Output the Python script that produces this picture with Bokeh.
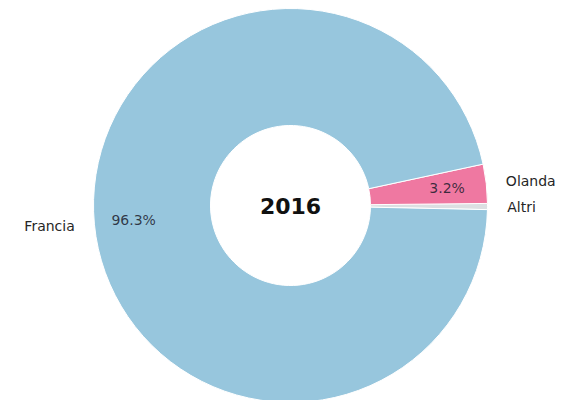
import math
from bokeh.plotting import figure
from bokeh.models import Range1d, ColumnDataSource
from bokeh.core.properties import value
from bokeh.embed import file_html
from bokeh.resources import INLINE

# Data (counter-clockwise order starting at the right)
labels = ["Altri", "Olanda", "Francia"]
shares = [0.5, 3.2, 96.3]
colors = ["#dcdfe2", "#ef78a1", "#97c6dd"]
center_title = "2016"

START_DEG = -1.2
R_OUT = 197
R_IN = 80

W, H = 564, 400
CX, CY = 290, 205  # pie centre in canvas pixels from top-left

p = figure(width=W, height=H, output_backend="svg", toolbar_location=None,
           x_range=Range1d(-CX, W - CX), y_range=Range1d(-(H - CY), CY),
           min_border=0)
p.axis.visible = False
p.grid.visible = False
p.outline_line_color = None
p.background_fill_color = "white"

total = sum(shares)
starts, ends = [], []
acc = math.radians(START_DEG)
for s in shares:
    a = 2 * math.pi * s / total
    starts.append(acc)
    ends.append(acc + a)
    acc += a

src = ColumnDataSource(dict(start=starts, end=ends, color=colors))
p.annular_wedge(x=0, y=0, inner_radius=R_IN, outer_radius=R_OUT,
                start_angle="start", end_angle="end", fill_color="color",
                line_color="white", line_width=1, source=src)

# labels outside
lx, ly, lalign, ltxt = [], [], [], []
px, py, ptxt = [], [], []
for lab, s, a0, a1 in zip(labels, shares, starts, ends):
    mid = (a0 + a1) / 2
    lx.append(1.1 * R_OUT * math.cos(mid))
    ly.append(1.1 * R_OUT * math.sin(mid))
    lalign.append("left" if math.cos(mid) >= 0 else "right")
    ltxt.append(lab)
    if s > 1:
        px.append(0.8 * R_OUT * math.cos(mid))
        py.append(0.8 * R_OUT * math.sin(mid))
        ptxt.append(f"{s:.1f}%")

lsrc = ColumnDataSource(dict(x=lx, y=ly, t=ltxt, al=lalign))
p.text(x="x", y="y", text="t", text_align="al", text_baseline="middle",
       text_font=value("DejaVu Sans"), text_font_size="14px",
       text_color="#262626", source=lsrc)

psrc = ColumnDataSource(dict(x=px, y=py, t=ptxt))
p.text(x="x", y="y", text="t", text_align="center", text_baseline="middle",
       text_font=value("DejaVu Sans"), text_font_size="14px",
       text_color="#1c1c2c", text_alpha=0.85, source=psrc)

p.text(x=[0], y=[0], text=[center_title], text_align="center",
       text_baseline="middle", text_font=value("DejaVu Sans"),
       text_font_size="22px", text_font_style="bold", text_color="#111111")

open("out.html", "w").write(file_html(p, INLINE))
